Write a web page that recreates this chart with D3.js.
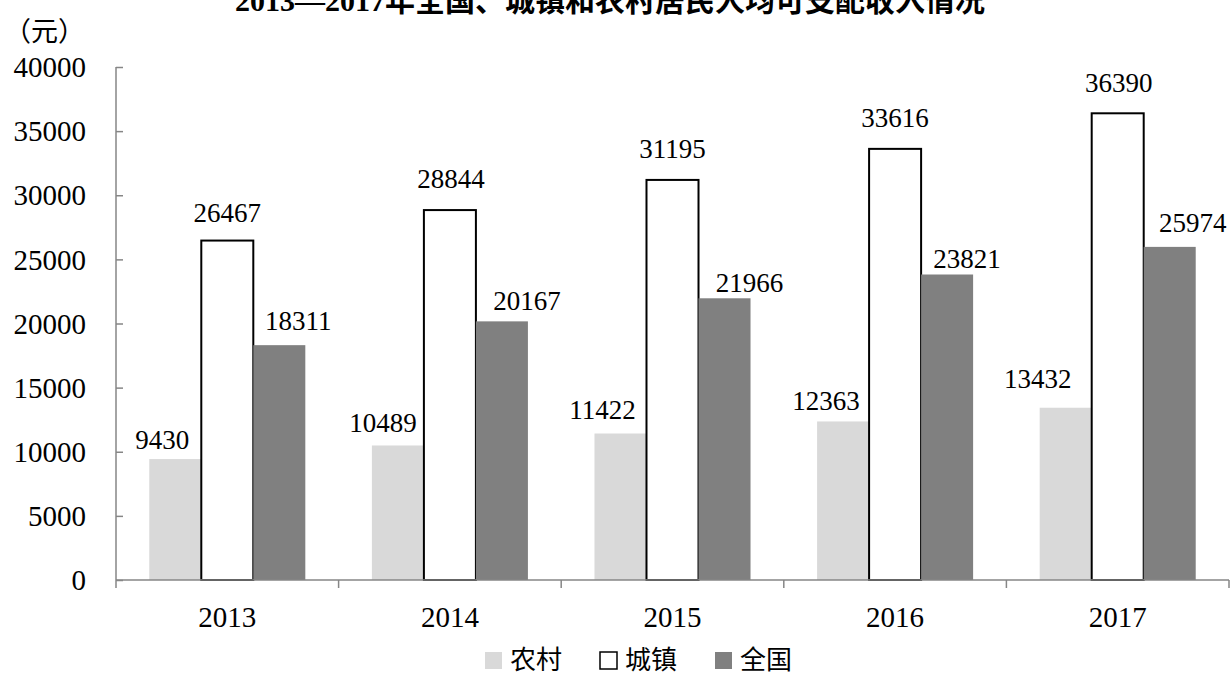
<!DOCTYPE html>
<html>
<head>
<meta charset="utf-8">
<script src="https://cdn.jsdelivr.net/npm/d3@7"></script>
<style>
  html, body { margin: 0; padding: 0; background: #fff; }
  svg { display: block; }
</style>
</head>
<body>
<svg id="chart" width="1232" height="677"></svg>
<script>
// ---- data ----
const years = ["2013", "2014", "2015", "2016", "2017"];
const seriesNames = ["农村", "城镇", "全国"];
const rural = [9430, 10489, 11422, 12363, 13432];
const urban = [26467, 28844, 31195, 33616, 36390];
const national = [18311, 20167, 21966, 23821, 25974];
const yTicks = [0, 5000, 10000, 15000, 20000, 25000, 30000, 35000, 40000];
const titleText = "2013—2017年全国、城镇和农村居民人均可支配收入情况";
const unitText = "（元）";

// label nudges (layout only, px relative to default position)
const labelDx = [[-13, -15, -18, -17, -28], [0, 1, 0, 0, 1], [19, 25, 25, 20, 23]];
const labelGap = [[10, 13, 15, 11, 20], [19, 22, 22, 22, 21], [15, 11, 6, 6, 15]];

const seriesValues = [rural, urban, national];
const fills = ["#d9d9d9", "#ffffff", "#808080"];
const strokes = ["none", "#000000", "none"];

const svg = d3.select("#chart");
const mLeft = 116, mRight = 1229, mTop = 67, mBottom = 580;

const x0 = d3.scaleBand().domain(years).range([mLeft, mRight]).paddingInner(0).paddingOuter(0);
const x1 = d3.scaleBand().domain(seriesNames).range([0, x0.bandwidth()]).paddingInner(0).paddingOuter(0.64);
const y = d3.scaleLinear().domain([0, 40000]).range([mBottom, mTop]);

// title (top clipped like reference)
svg.append("text")
  .attr("x", 610).attr("y", 11)
  .attr("text-anchor", "middle")
  .attr("font-family", "'Liberation Serif', 'Noto Sans CJK SC', serif")
  .attr("font-weight", "bold")
  .attr("font-size", 30)
  .attr("fill", "#000")
  .text(titleText);

// unit
svg.append("text")
  .attr("x", 4).attr("y", 41)
  .attr("font-family", "'Noto Sans CJK SC', sans-serif")
  .attr("font-size", 27)
  .attr("fill", "#000")
  .text(unitText);

// bars
const groups = svg.append("g").selectAll("g")
  .data(years)
  .join("g")
  .attr("transform", d => `translate(${x0(d)},0)`);

groups.selectAll("rect")
  .data((d, i) => seriesNames.map((s, j) => ({ s, j, i, v: seriesValues[j][i] })))
  .join("rect")
  .attr("x", d => x1(d.s))
  .attr("y", d => y(d.v))
  .attr("width", x1.bandwidth())
  .attr("height", d => y(0) - y(d.v))
  .attr("fill", d => fills[d.j])
  .attr("stroke", d => strokes[d.j])
  .attr("stroke-width", 2);

// value labels
groups.selectAll("text.val")
  .data((d, i) => seriesNames.map((s, j) => ({ s, j, i, v: seriesValues[j][i] })))
  .join("text")
  .attr("class", "val")
  .attr("x", d => x1(d.s) + x1.bandwidth() / 2 + labelDx[d.j][d.i])
  .attr("y", d => y(d.v) - labelGap[d.j][d.i])
  .attr("text-anchor", "middle")
  .attr("font-family", "'Liberation Serif', 'Times New Roman', serif")
  .attr("font-size", 27)
  .attr("fill", "#000")
  .text(d => d.v);

// y axis
const yAxis = d3.axisRight(y).tickValues(yTicks).tickSize(7).tickFormat("");
const yg = svg.append("g").attr("transform", `translate(${mLeft},0)`).call(yAxis);
yg.select(".domain").attr("stroke", "#868686").attr("stroke-width", 1.5).attr("d", `M0,${mTop}V${mBottom}`);
yg.selectAll(".tick line").attr("stroke", "#868686").attr("stroke-width", 1.5);

svg.append("g").selectAll("text")
  .data(yTicks)
  .join("text")
  .attr("x", 86)
  .attr("y", d => y(d))
  .attr("dy", "0.35em")
  .attr("text-anchor", "end")
  .attr("font-family", "'Liberation Serif', 'Times New Roman', serif")
  .attr("font-size", 29)
  .attr("fill", "#000")
  .text(d => d);

// x axis
const xg = svg.append("g").attr("transform", `translate(0,${mBottom})`);
xg.append("line").attr("x1", mLeft).attr("x2", mRight).attr("y1", 0).attr("y2", 0)
  .attr("stroke", "#868686").attr("stroke-width", 1.5);
const boundaries = years.map(d => x0(d)).concat([x0(years[years.length - 1]) + x0.bandwidth()]);
xg.selectAll("line.tk").data(boundaries).join("line")
  .attr("class", "tk")
  .attr("x1", d => d).attr("x2", d => d).attr("y1", 0).attr("y2", 8)
  .attr("stroke", "#868686").attr("stroke-width", 1.5);
xg.selectAll("text").data(years).join("text")
  .attr("x", d => x0(d) + x0.bandwidth() / 2)
  .attr("y", 47)
  .attr("text-anchor", "middle")
  .attr("font-family", "'Liberation Serif', 'Times New Roman', serif")
  .attr("font-size", 29)
  .attr("fill", "#000")
  .text(d => d);

// legend
const legendX = [485, 600, 715];
const lg = svg.append("g").selectAll("g").data(seriesNames).join("g")
  .attr("transform", (d, i) => `translate(${legendX[i]},652)`);
lg.append("rect")
  .attr("x", 0).attr("y", 0).attr("width", 17).attr("height", 17)
  .attr("fill", (d, i) => fills[i])
  .attr("stroke", (d, i) => strokes[i])
  .attr("stroke-width", 1.5);
lg.append("text")
  .attr("x", 25).attr("y", 17)
  .attr("font-family", "'Noto Sans CJK SC', sans-serif")
  .attr("font-size", 26)
  .attr("fill", "#000")
  .text(d => d);
</script>
</body>
</html>
